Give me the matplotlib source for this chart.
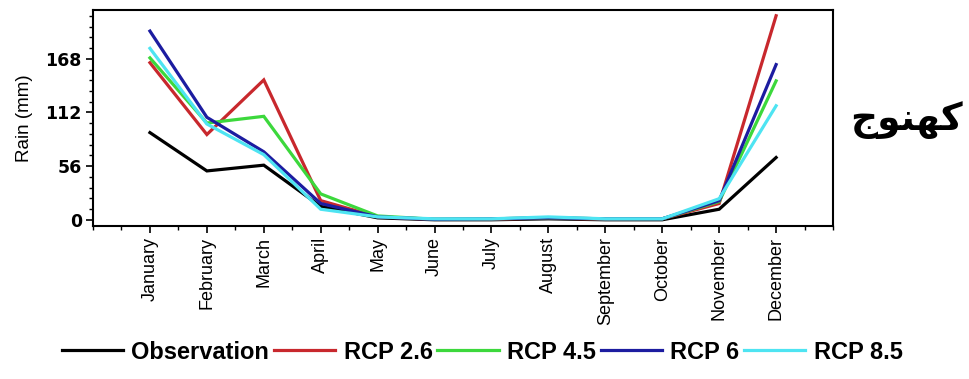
import matplotlib
matplotlib.use("Agg")
import matplotlib.pyplot as plt
from matplotlib.ticker import MultipleLocator

months = ["January", "February", "March", "April", "May", "June", "July",
          "August", "September", "October", "November", "December"]
observation = [91, 51, 57, 14, 2, 0, 0, 1, 0, 0, 11, 65]
rcp26 = [164, 89, 146, 20, 3, 0.5, 0.5, 2, 0.5, 1, 17, 213]
rcp45 = [169, 101, 108, 27, 4, 0.5, 1, 2, 1, 1, 19, 145]
rcp6 = [197, 107, 71, 17, 3, 0.5, 1, 2, 1, 1, 20, 162]
rcp85 = [179, 100, 68, 11, 3, 1, 1, 3, 1, 1, 22, 119]
series_names = ["Observation", "RCP 2.6", "RCP 4.5", "RCP 6", "RCP 8.5"]
yticks = [0, 56, 112, 168]
station = "\uFE9D\uFEEE\uFEE8\uFEEC\uFB90"  # کهنوج, shaped glyphs in display order

colors = ["#000000", "#c8282d", "#3cd83c", "#1c1ca0", "#4ee4f2"]

fig = plt.figure(figsize=(9.7, 3.79), dpi=100)
ax = fig.add_axes([0.0959, 0.4037, 0.7629, 0.5699])

x = range(1, len(months) + 1)
for vals, name, c in zip([observation, rcp26, rcp45, rcp6, rcp85], series_names, colors):
    ax.plot(x, vals, color=c, lw=2.3, label=name, solid_joinstyle="miter")

ax.set_xlim(0, 13)
ax.set_ylim(-6.5, 219)
ax.set_xticks(list(x))
ax.set_xticklabels(months, rotation=90, family="Liberation Sans", fontsize=13)
ax.xaxis.set_minor_locator(MultipleLocator(0.5))
ax.set_yticks(yticks)
ax.set_yticklabels([str(v) for v in yticks], family="DejaVu Sans",
                   fontweight="bold", fontsize=12.5)
ax.yaxis.set_minor_locator(MultipleLocator(11.2))
ax.tick_params(which="major", direction="out", length=5, width=1.2, pad=3)
ax.tick_params(which="minor", direction="out", length=3, width=1.0)
for s in ax.spines.values():
    s.set_linewidth(1.5)
ax.set_ylabel("Rain (mm)", family="Liberation Sans", fontsize=13.5, labelpad=9)

fig.text(0.934, 0.683, station, family=["DejaVu Sans"], fontsize=27,
         fontweight="bold", ha="center", va="center")

fig.legend(loc="center", bbox_to_anchor=(0.497, 0.071), ncol=5, frameon=False,
           prop={"family": "Liberation Sans", "weight": "bold", "size": 17},
           handlelength=2.6, handletextpad=0.35, columnspacing=0.2,
           borderaxespad=0)

fig.savefig("out.png", dpi=100)
